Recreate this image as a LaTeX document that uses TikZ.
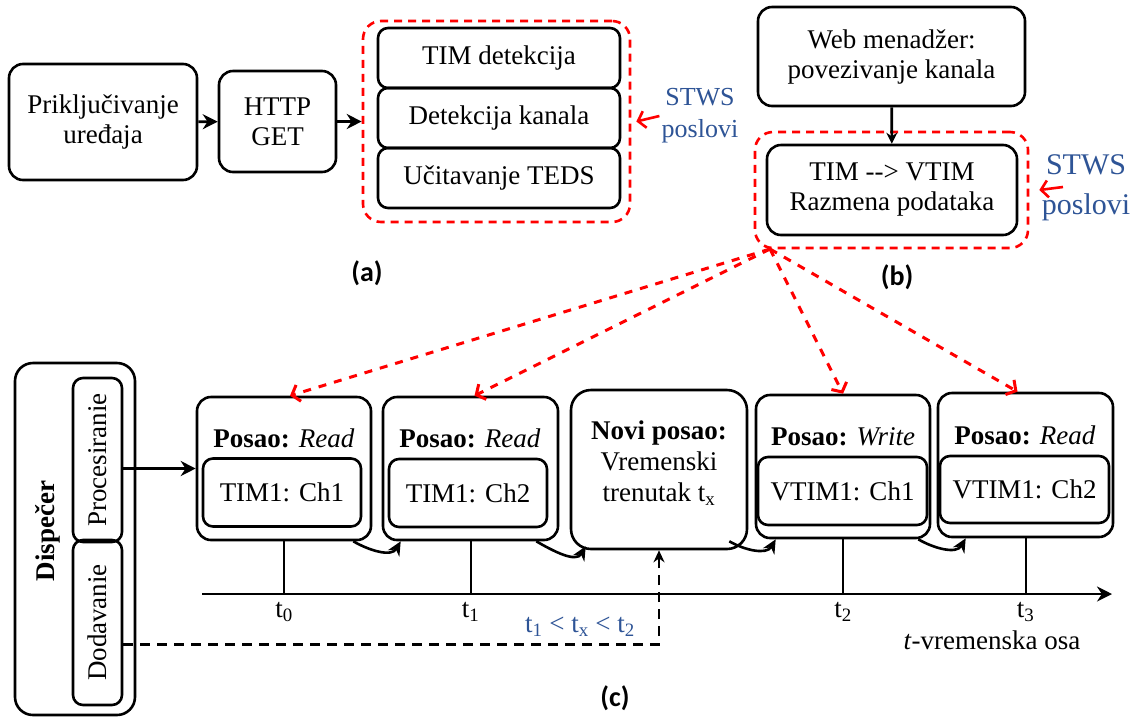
\documentclass[tikz,border=0pt]{standalone}
\usepackage{fontspec}
\setmainfont{Liberation Serif}
\newfontfamily\capfont{Carlito}
\usetikzlibrary{arrows.meta}
\definecolor{stwsblue}{RGB}{46,84,150}
\newcommand\osnovni{\fontsize{27}{30}\selectfont}

\begin{document}
\begin{tikzpicture}[x=1pt,y=-1pt,line width=2.6pt,font=\osnovni,
    blok/.style={draw,rounded corners=14pt,align=center,inner sep=0pt},
    grupa/.style={draw=red,rounded corners=18pt,dash pattern=on 8pt off 6pt,line width=2.6pt},
    posao/.style={draw,rounded corners=14pt,minimum width=174pt,minimum height=143pt},
    kanal/.style={draw,rounded corners=10pt,minimum height=68pt,inner sep=0pt},
    stws/.style={text=stwsblue,align=center,inner sep=1pt},
    oznaka/.style={font=\capfont\bfseries\fontsize{28}{30}\selectfont},
    strelica/.style={-{Stealth[length=15pt,width=15pt]}},
    crvena/.style={red,line width=3pt,dash pattern=on 8pt off 8pt,-{Straight Barb[length=7pt,width=17pt]}}]
  \useasboundingbox (0,0) rectangle (1137,716);
  % (a)
  \node[blok,minimum width=188pt,minimum height=116pt] (prik) at (103,122) {Priključivanje\\uređaja};
  \node[blok,minimum width=117pt,minimum height=101pt] (http) at (277.5,121.5) {HTTP\\GET};
  \node[kanal,minimum width=242pt,minimum height=60pt] (timdet) at (499,58) {TIM detekcija};
  \node[kanal,minimum width=242pt,minimum height=60pt] (detkan) at (499,118) {Detekcija kanala};
  \node[kanal,minimum width=242pt,minimum height=60pt] (teds) at (499,178) {Učitavanje TEDS};
  \node[grupa,minimum width=267pt,minimum height=201pt] (grpA) at (496.5,121.5) {};
  \node[stws,font=\fontsize{26}{32}\selectfont] (stwsA) at (700,116) {STWS\\poslovi};
  \draw[strelica] (prik) -- (http);
  \draw[strelica] (http) -- (grpA);
  \draw[red,-{Straight Barb[length=7pt,width=17pt]}] (stwsA.west) -- ([xshift=5pt]grpA.east);
  \node[oznaka] (lblA) at (367,273) {(a)};
  % (b)
  \node[blok,minimum width=267pt,minimum height=99pt] (web) at (891.5,56.5) {Web menadžer:\\povezivanje kanala};
  \node[blok,minimum width=250pt,minimum height=90pt] (vtim) at (892,190) {TIM -{}-> VTIM\\Razmena podataka};
  \node[grupa,minimum width=273pt,minimum height=116pt] (grpB) at (891.5,190) {};
  \node[stws,font=\fontsize{30}{40}\selectfont] (stwsB) at (1086,188) {STWS\\poslovi};
  \coordinate (repB) at (1063,187);
  \draw[-{Stealth[length=11pt,width=11pt]}] (web) -- (vtim);
  \draw[red,-{Straight Barb[length=7pt,width=17pt]}] (repB) -- ([xshift=10pt]grpB.east);
  \node[oznaka] (lblB) at (897,277) {(b)};
  % (c) dispecer
  \node[blok,rounded corners=18pt,minimum width=120pt,minimum height=352pt] (disp) at (75,539) {};
  \node[rotate=90,font=\osnovni\bfseries] (dispT) at (48,531) {Dispečer};
  \node[blok,rotate=90,rounded corners=10pt,minimum width=164pt,minimum height=49pt] (proc) at (97.5,460) {Procesiranie};
  \node[blok,rotate=90,rounded corners=10pt,minimum width=165pt,minimum height=49pt] (doda) at (97.5,622.5) {Dodavanie};
  % poslovi na vremenskoj osi
  \node[posao] (j1) at (284,468.5) {};
  \node (j1n) at (284,438) {\textbf{Posao:} \textit{Read}};
  \node[kanal,minimum width=158pt] (j1k) at (282,492.5) {TIM1: Ch1};
  \node[posao,minimum width=175pt] (j2) at (470.5,468.5) {};
  \node (j2n) at (470,438) {\textbf{Posao:} \textit{Read}};
  \node[kanal,minimum width=158pt] (j2k) at (468,493) {TIM1: Ch2};
  \node[posao,minimum width=176pt,minimum height=159pt,rounded corners=20pt] (novi) at (659,469.5) {};
  \node[align=center,font=\fontsize{27}{31}\selectfont] (noviT) at (659,463) {\textbf{Novi posao:}\\Vremenski\\trenutak t\textsubscript{x}};
  \node[posao] (j3) at (843,466.5) {};
  \node (j3n) at (843,437) {\textbf{Posao:} \textit{Write}};
  \node[kanal,minimum width=169pt] (j3k) at (842.5,491) {VTIM1: Ch1};
  \node[posao,minimum width=175pt,minimum height=144pt] (j4) at (1025.5,465) {};
  \node (j4n) at (1025,435) {\textbf{Posao:} \textit{Read}};
  \node[kanal,minimum width=169pt,minimum height=67pt] (j4k) at (1024.5,489.5) {VTIM1: Ch2};
  % vremenska osa
  \coordinate (os0) at (202,594);
  \coordinate (os1) at (1112,594);
  \draw[strelica] (os0) -- (os1);
  \foreach \j/\t in {j1/0,j2/1,j3/2,j4/3}
    \draw[line width=2pt] (\j.south) -- (\j.south |- os0) node[below=4pt] (t\t) {t\textsubscript{\t}};
  \node (osaT) at (992,640) {\textit{t}-vremenska osa};
  \node[text=stwsblue] (uslov) at (580,627) {t\textsubscript{1} < t\textsubscript{x} < t\textsubscript{2}};
  \node[oznaka] (lblC) at (615,698) {(c)};
  % veze
  \draw[strelica] (proc.south |- j1.west) -- (j1.west);
  \draw[dash pattern=on 10pt off 7pt,-{Stealth[length=12pt,width=11pt]}] ([yshift=-22pt]doda.south) -| (novi.south);
  \draw[-{Stealth[length=14pt,width=13pt]}] ([xshift=-19pt]j1.south east) to[out=-30,in=-120] ([xshift=19pt]j2.south west);
  \draw[-{Stealth[length=14pt,width=13pt]}] ([xshift=-23pt]j2.south east) to[out=-30,in=-120] ([xshift=16pt,yshift=4pt]novi.south west);
  \draw[-{Stealth[length=14pt,width=13pt]}] ([xshift=-19pt,yshift=9pt]novi.south east) to[out=-30,in=-120] ([xshift=21pt]j3.south west);
  \draw[-{Stealth[length=14pt,width=13pt]}] ([xshift=-13pt]j3.south east) to[out=-30,in=-120] ([xshift=29pt]j4.south west);
  \coordinate (izvor) at (770,249);
  \draw[crvena] (izvor) -- ([xshift=6pt]j1.north);
  \draw[crvena] (izvor) -- ([xshift=4pt]j2.north);
  \draw[crvena] (izvor) -- (j3.north);
  \draw[crvena] (izvor) -- ([xshift=-8pt]j4.north);
\end{tikzpicture}
\end{document}
